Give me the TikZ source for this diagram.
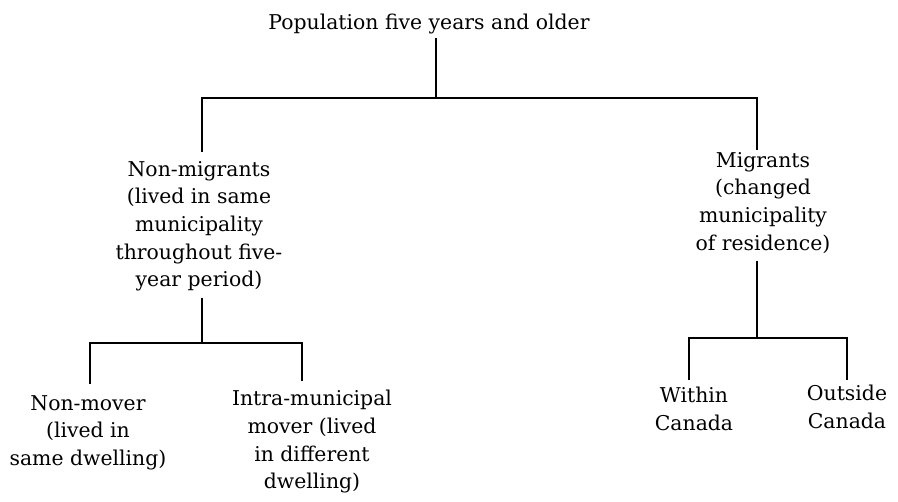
\documentclass[tikz,border=0pt]{standalone}
\usepackage{fontspec}
\setmainfont{DejaVu Serif}
\usetikzlibrary{positioning, calc}

\begin{document}
\begin{tikzpicture}[x=0.02cm, y=-0.02cm,
    font=\fontsize{11.6}{15.7}\selectfont,
    every node/.style={align=center, inner sep=0pt, anchor=north},
    link/.style={line width=1.1pt}]
    \useasboundingbox (0,0) rectangle (898,501);
    % 1. Root
    \node (pop) at (429,14) {Population five years and older};
    % 2. First level
    \node (nonmig) at (199,161) {Non-migrants\\(lived in same\\municipality\\throughout five-\\year period)};
    \node (mig) at (763,152) {Migrants\\(changed\\municipality\\of residence)};
    % 3. Second level
    \node (nonmover) at (88,395) {Non-mover\\(lived in\\same dwelling)};
    \node (intra) at (312,390) {Intra-municipal\\mover (lived\\in different\\dwelling)};
    \node (within) at (694,387) {Within\\Canada};
    \node (outside) at (847,385) {Outside\\Canada};
    % Junctions
    \coordinate (split) at (436,98);
    \coordinate (nmtop) at (202,98);
    \coordinate (mtop) at (757,98);
    \coordinate (nmbot) at (202,343);
    \coordinate (lbl) at (90,343);
    \coordinate (lbr) at (302,343);
    \coordinate (mbot) at (757,338);
    \coordinate (rbl) at (689,338);
    \coordinate (rbr) at (847,338);
    % 4. Connectors
    \draw[link] ([yshift=-2pt]pop.south -| split) -- (split);
    \draw[link] ([yshift=5pt]nonmig.north -| nmtop) -- (nmtop) -- (mtop)
        -- ([yshift=1pt]mig.north -| mtop);
    \draw[link] ([yshift=-3.5pt]nonmig.south -| nmbot) -- (nmbot);
    \draw[link] ([yshift=6.5pt]nonmover.north -| lbl) -- (lbl) -- (lbr)
        -- ([yshift=5pt]intra.north -| lbr);
    \draw[link] ([yshift=-4pt]mig.south -| mbot) -- (mbot);
    \draw[link] ([yshift=4pt]within.north -| rbl) -- (rbl) -- (rbr)
        -- ([yshift=3pt]outside.north -| rbr);
\end{tikzpicture}
\end{document}
